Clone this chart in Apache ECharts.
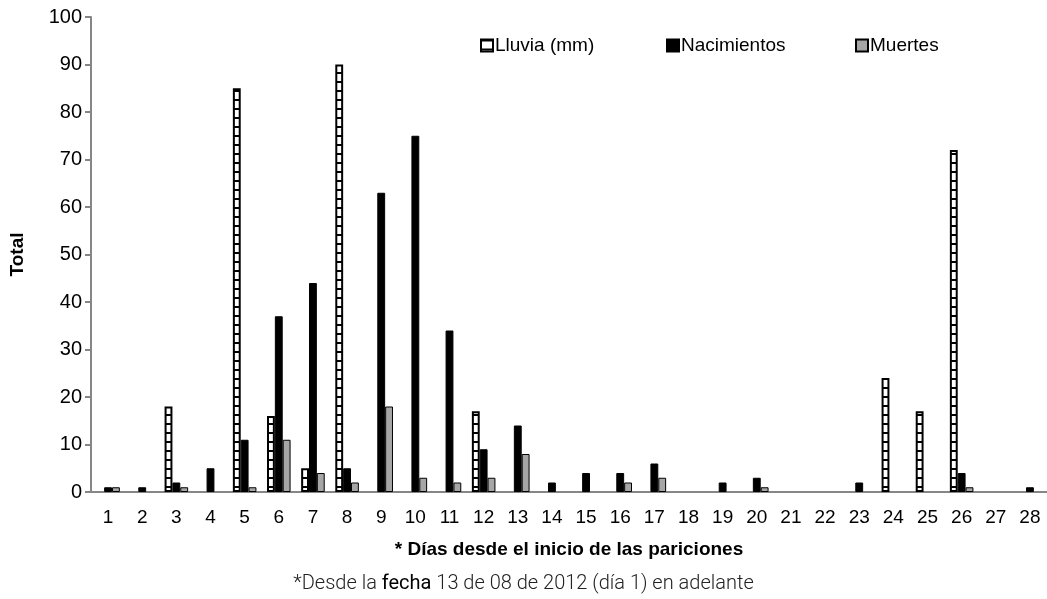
<!DOCTYPE html>
<html>
<head>
<meta charset="utf-8">
<script src="https://cdn.jsdelivr.net/npm/echarts@6/dist/echarts.min.js"></script>
<style>
  html, body { margin: 0; padding: 0; background: #fff; }
  #chart { width: 1047px; height: 599px; }
</style>
</head>
<body>
<div id="chart"></div>
<script>
// días desde el inicio de las pariciones
const dias = ['1','2','3','4','5','6','7','8','9','10','11','12','13','14','15','16','17','18','19','20','21','22','23','24','25','26','27','28'];
const lluvia      = [0, 0, 18, 0, 85, 16, 5, 90, 0, 0, 0, 17, 0, 0, 0, 0, 0, 0, 0, 0, 0, 0, 0, 24, 17, 72, 0, 0];
const nacimientos = [1, 1, 2, 5, 11, 37, 44, 5, 63, 75, 34, 9, 14, 2, 4, 4, 6, 0, 2, 3, 0, 0, 2, 0, 0, 4, 0, 1];
const muertes     = [1, 0, 1, 0, 1, 11, 4, 2, 18, 3, 2, 3, 8, 0, 0, 2, 3, 0, 0, 1, 0, 0, 0, 0, 0, 1, 0, 0];
const yTicks = [0, 10, 20, 30, 40, 50, 60, 70, 80, 90, 100];

const font = '"Liberation Sans", Arial, sans-serif';

// relleno rayado de la lluvia
function stripes() {
  const c = document.createElement('canvas');
  c.width = 9; c.height = 9;
  const ctx = c.getContext('2d');
  ctx.fillStyle = '#fff';
  ctx.fillRect(0, 0, 9, 9);
  ctx.fillStyle = '#000';
  ctx.fillRect(0, 0, 9, 2);
  return c;
}
const rainFill = {image: stripes(), repeat: 'repeat'};

// los ceros no se dibujan
const noZero = arr => arr.map(v => (v === 0 ? null : v));

const myChart = echarts.init(document.getElementById('chart'));

function legendAt(name, left) {
  return {
    data: [name],
    left: left,
    top: 31,
    icon: 'rect',
    itemWidth: 12,
    itemHeight: 12,
    itemGap: 0,
    textStyle: {fontFamily: font, fontSize: 19, color: '#000', padding: [0, 0, 0, -3]}
  };
}

const option = {
  animation: false,
  backgroundColor: '#fff',
  legend: [
    legendAt('Lluvia (mm)', 475),
    legendAt('Nacimientos', 661),
    legendAt('Muertes', 850)
  ],
  grid: {left: 91, top: 17, width: 959, height: 475, containLabel: false},
  xAxis: {
    type: 'category',
    data: dias,
    name: '* Días desde el inicio de las pariciones',
    nameLocation: 'middle',
    nameGap: 48,
    nameTextStyle: {fontFamily: font, fontSize: 19, fontWeight: 'bold', color: '#000'},
    axisLine: {lineStyle: {color: '#868686', width: 2}},
    axisTick: {show: false},
    axisLabel: {fontFamily: font, fontSize: 19, color: '#000', margin: 16, interval: 0}
  },
  yAxis: {
    type: 'value',
    min: 0,
    max: 100,
    interval: 10,
    name: 'Total',
    nameLocation: 'middle',
    nameRotate: 90,
    nameGap: 64,
    nameTextStyle: {fontFamily: font, fontSize: 19, fontWeight: 'bold', color: '#000'},
    splitLine: {show: false},
    axisLine: {show: true, lineStyle: {color: '#868686', width: 2}},
    axisTick: {show: true, length: 6, lineStyle: {color: '#868686', width: 2}},
    axisLabel: {
      fontFamily: font, fontSize: 20, color: '#000', margin: 9,
      formatter: v => (yTicks.includes(v) ? String(v) : '')
    }
  },
  series: [
    {
      name: 'Lluvia (mm)',
      type: 'bar',
      data: noZero(lluvia),
      barGap: '0%',
      barCategoryGap: '31%',
      itemStyle: {color: rainFill, borderColor: '#000', borderWidth: 2}
    },
    {
      name: 'Nacimientos',
      type: 'bar',
      data: noZero(nacimientos),
      itemStyle: {color: '#000', borderColor: '#000', borderWidth: 1}
    },
    {
      name: 'Muertes',
      type: 'bar',
      data: noZero(muertes),
      itemStyle: {color: '#a6a6a6', borderColor: '#000', borderWidth: 1}
    }
  ],
  graphic: [
    {
      type: 'text',
      left: 'center',
      top: 574,
      style: {
        text: '{a|*Desde la }{b|fecha}{a| 13 de 08 de 2012 (día 1) en adelante}',
        rich: {
          a: {fontFamily: 'Roboto, "Open Sans", sans-serif', fontWeight: 300, fontSize: 20, fill: '#222'},
          b: {fontFamily: 'Roboto, "Open Sans", sans-serif', fontWeight: 400, fontSize: 20, fill: '#000'}
        }
      }
    }
  ]
};

myChart.setOption(option);
window.addEventListener('resize', () => {
  myChart.resize();
});
</script>
</body>
</html>
